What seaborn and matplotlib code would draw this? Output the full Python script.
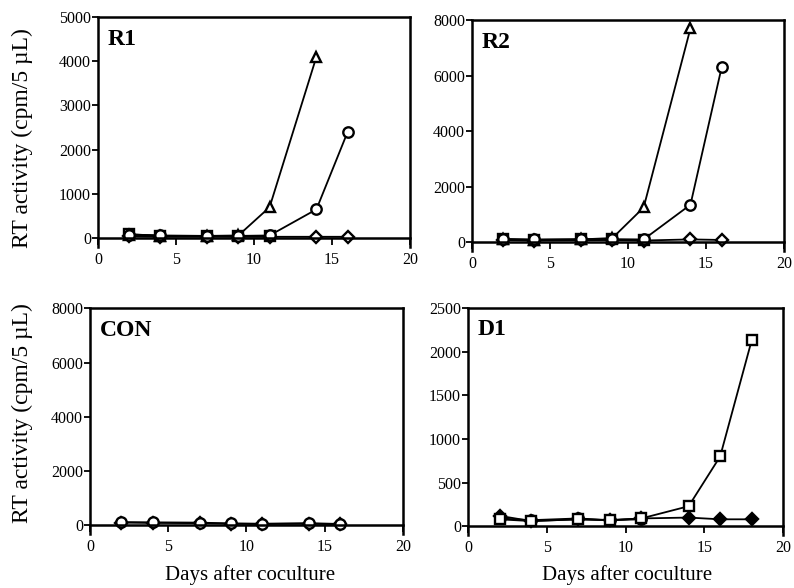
import numpy as np
import pandas as pd
import matplotlib
matplotlib.use('Agg')
import matplotlib.pyplot as plt
import seaborn as sns

sns.set_style('ticks')
plt.rcParams['font.family'] = ['Liberation Serif', 'DejaVu Serif']
plt.rcParams['text.color'] = 'black'
plt.rcParams['xtick.color'] = 'black'
plt.rcParams['ytick.color'] = 'black'
plt.rcParams['axes.labelcolor'] = 'black'

# ---- data ----
days_full = [2, 4, 7, 9, 11, 14, 16]

# R1
r1_tri_days = [2, 4, 7, 9, 11, 14]
r1_tri = [80, 50, 50, 60, 700, 4100]
r1_circ = [80, 60, 50, 50, 60, 650, 2400]
r1_sq_days = [2, 4, 7, 9, 11]
r1_sq = [90, 50, 50, 40, 40]
r1_dia = [40, 30, 30, 30, 30, 30, 30]

# R2
r2_tri_days = [2, 4, 7, 9, 11, 14]
r2_tri = [100, 80, 100, 150, 1250, 7700]
r2_circ = [100, 100, 100, 100, 100, 1350, 6300]
r2_sq_days = [2, 4, 7, 9, 11]
r2_sq = [120, 80, 100, 100, 80]
r2_dia = [80, 60, 70, 80, 60, 100, 80]

# CON
con_circ = [120, 110, 100, 70, 60, 80, 50]
con_dia = [100, 90, 80, 60, 50, 60, 40]

# D1
d1_days = [2, 4, 7, 9, 11, 14, 16, 18]
d1_sq = [80, 60, 80, 70, 90, 230, 800, 2130]
d1_circ_days = [2, 4, 7, 9, 11]
d1_circ = [90, 70, 90, 70, 80]
d1_dia = [120, 60, 80, 70, 90, 100, 80, 80]

panels = [
    ('R1', 5000, [0, 1000, 2000, 3000, 4000, 5000], [0.1234, 0.580, 0.393, 0.391],
     [(r1_dia, days_full, 'D', 'white'), (r1_sq, r1_sq_days, 's', 'white'),
      (r1_tri, r1_tri_days, '^', 'white'), (r1_circ, days_full, 'o', 'white')]),
    ('R2', 8000, [0, 2000, 4000, 6000, 8000], [0.5945, 0.573, 0.393, 0.393],
     [(r2_dia, days_full, 'D', 'white'), (r2_sq, r2_sq_days, 's', 'white'),
      (r2_tri, r2_tri_days, '^', 'white'), (r2_circ, days_full, 'o', 'white')]),
    ('CON', 8000, [0, 2000, 4000, 6000, 8000], [0.1134, 0.0918, 0.394, 0.384],
     [(con_dia, days_full, 'D', 'white'), (con_circ, days_full, 'o', 'white')]),
    ('D1', 2500, [0, 500, 1000, 1500, 2000, 2500], [0.5894, 0.0901, 0.397, 0.386],
     [(d1_dia, d1_days, 'D', 'black'), (d1_circ, d1_circ_days, 'o', 'white'),
      (d1_sq, d1_days, 's', 'white')]),
]

fig = plt.figure(figsize=(7.94, 5.88), dpi=100)

for name, ytop, yticks, rect, series in panels:
    ax = fig.add_axes(rect)
    for vals, xs, mk, fc in series:
        df = pd.DataFrame({'day': xs, 'rt': vals})
        sns.lineplot(data=df, x='day', y='rt', ax=ax, color='black', lw=1.3,
                     marker=mk, markersize=7.5 if mk != 'D' else 6.5,
                     markerfacecolor=fc, markeredgecolor='black',
                     markeredgewidth=1.7)
    ax.set_xlim(0, 20)
    ax.set_ylim(-0.04 * ytop, ytop)
    ax.set_xticks([0, 5, 10, 15, 20])
    ax.set_yticks(yticks)
    ax.spines['bottom'].set_position(('data', 0))
    for sp in ax.spines.values():
        sp.set_linewidth(1.8)
        sp.set_color('black')
    ax.tick_params(axis='y', direction='out', length=4, width=1.3,
                   labelsize=11.5, pad=1)
    ax.tick_params(axis='x', direction='out', length=5, width=1.3,
                   labelsize=11.5, pad=5)
    ax.set_xlabel('')
    ax.set_ylabel('')
    ax.text(0.03, 0.95, name, transform=ax.transAxes, ha='left', va='top',
            fontsize=17, fontweight='bold')

fig.text(0.028, 0.298, 'RT activity (cpm/5 \u00b5L)', rotation=90, fontsize=17,
         ha='center', va='center')
fig.text(0.028, 0.765, 'RT activity (cpm/5 \u00b5L)', rotation=90, fontsize=17,
         ha='center', va='center')
fig.text(0.315, 0.022, 'Days after coculture', fontsize=15, ha='center', va='center')
fig.text(0.79, 0.022, 'Days after coculture', fontsize=15, ha='center', va='center')

fig.savefig('out.png', dpi=100)
